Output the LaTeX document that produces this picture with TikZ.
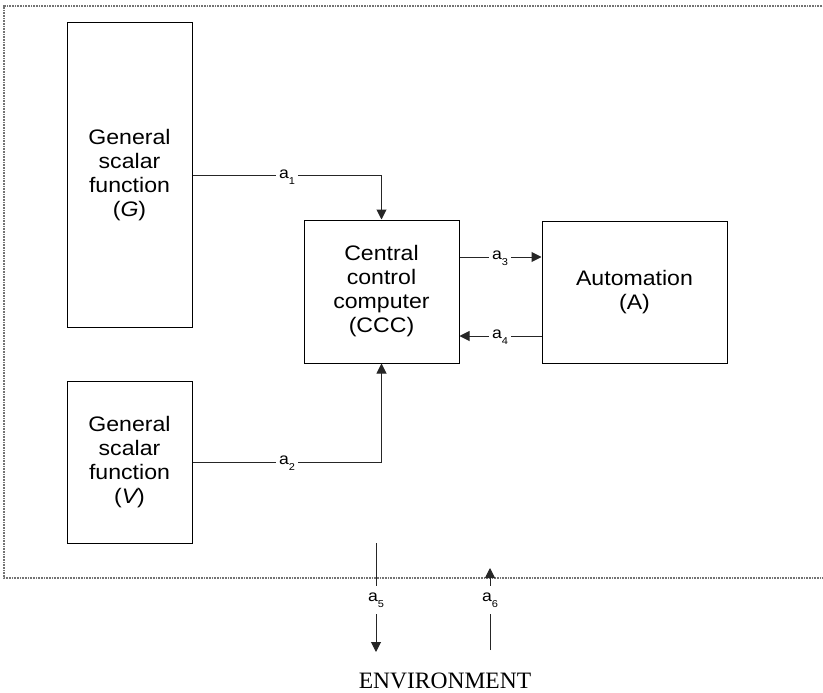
\documentclass[tikz,border=0pt]{standalone}
\usepackage{fontspec}
\setmainfont{Liberation Serif}
\newfontfamily\arialf[FakeStretch=1.1]{Liberation Sans}
\usetikzlibrary{arrows.meta}
\tikzset{
  blk/.style={draw=black, line width=1pt, inner sep=0pt, align=center,
    font=\arialf\fontsize{21}{24}\selectfont},
  conn/.style={draw=black!85, line width=1pt},
  arr/.style={conn, -{Triangle[length=10pt,width=10pt]}},
  lbl/.style={fill=white, inner xsep=3pt, inner ysep=4pt,
    font=\arialf\fontsize{16}{16}\selectfont},
  frame/.style={draw=black!55, line width=1.2pt, dash pattern=on 1pt off 0.6pt},
}
\newcommand{\sublbl}[1]{a\raisebox{-0.35em}{\fontsize{10}{10}\selectfont #1}}
\begin{document}
\begin{tikzpicture}[x=1pt,y=-1pt]
\useasboundingbox (0,0) rectangle (823,693);
% outer dotted frame
\draw[frame] (840,6) -- (4,6) -- (4,578) -- (840,578);
% boxes
\node[blk, minimum width=125pt, minimum height=304pt] (G) at (129.5,175)
  {General\\scalar\\function\\({\itshape G})};
\node[blk, minimum width=125pt, minimum height=162pt] (V) at (129.5,462)
  {General\\scalar\\function\\({\itshape V})};
\node[blk, minimum width=155pt, minimum height=143pt] (CCC) at (381.5,291.5)
  {Central\\control\\computer\\(CCC)};
\node[blk, minimum width=185pt, minimum height=142pt] (A) at (634.5,292)
  {Automation\\(A)};
% connectors
\draw[arr] (G.east) -- (CCC.north |- G.east) -- (CCC.north);
\node[lbl] (l1) at (287,177) {\sublbl{1}};
\draw[arr] (V.east) -- (CCC.south |- V.east) -- (CCC.south);
\node[lbl] (l2) at (287,463) {\sublbl{2}};
\draw[arr] (CCC.east |- 0,257) -- (A.west |- 0,257);
\node[lbl] (l3) at (500,258) {\sublbl{3}};
\draw[arr] (A.west |- 0,336) -- (CCC.east |- 0,336);
\node[lbl] (l4) at (500,337) {\sublbl{4}};
% environment links
\coordinate (e5top) at (376,543);
\coordinate (e5bot) at (376,652);
\coordinate (e6top) at (490,568);
\coordinate (e6bot) at (490,650);
\draw[arr] (e5top) -- (e5bot);
\node[lbl, inner ysep=7pt] (l5) at (376,600) {\sublbl{5}};
\draw[arr] (e6bot) -- (e6top);
\node[lbl, inner ysep=7pt] (l6) at (490,600) {\sublbl{6}};
\node[anchor=base, inner sep=0pt, font=\fontsize{23.5}{24}\selectfont] (env) at (445,688) {ENVIRONMENT};
\end{tikzpicture}
\end{document}
